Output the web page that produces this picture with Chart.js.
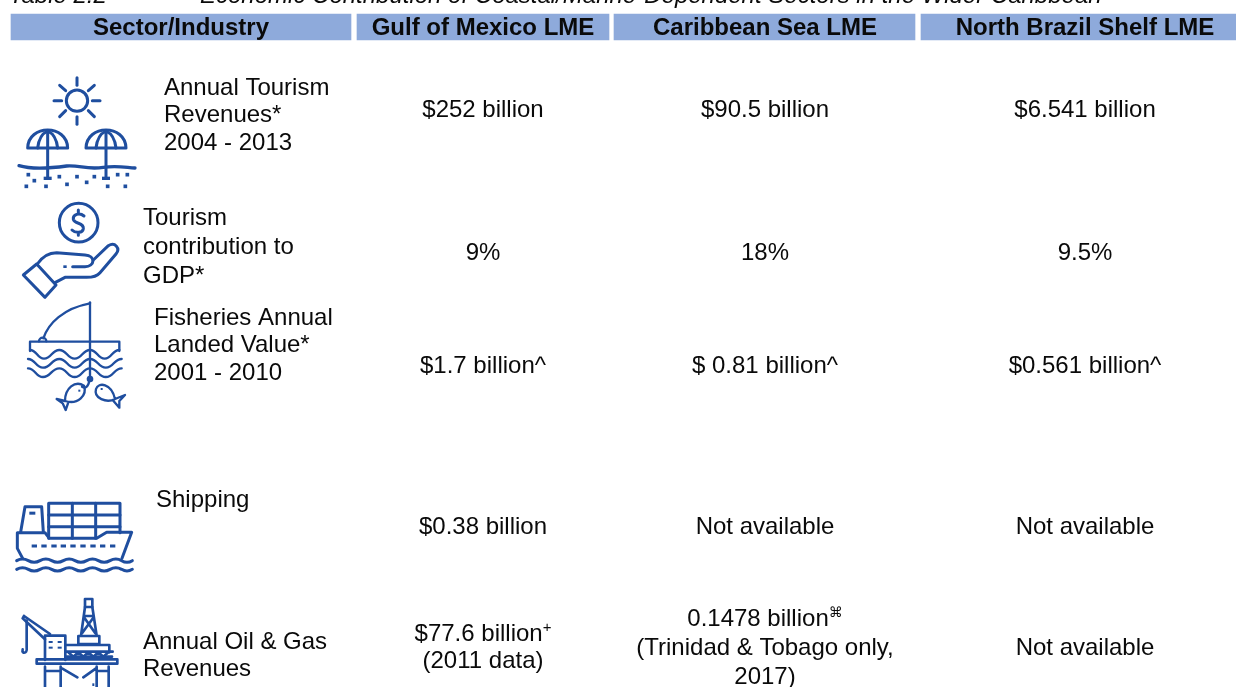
<!DOCTYPE html>
<html><head><meta charset="utf-8">
<style>html,body{margin:0;padding:0;background:#fff;overflow:hidden}canvas{display:block}</style>
<script src="https://cdn.jsdelivr.net/npm/chart.js@4"></script>
</head><body><canvas id="c" width="1236" height="687"></canvas>
<script>
const tableLabel = "Table 2.2";
const tableTitle = "Economic Contribution of Coastal/Marine-Dependent Sectors in the Wider Caribbean";
const headers = ["Sector/Industry","Gulf of Mexico LME","Caribbean Sea LME","North Brazil Shelf LME"];
const sectors = [["Annual Tourism","Revenues*","2004 - 2013"],["Tourism","contribution to","GDP*"],["Fisheries Annual","Landed Value*","2001 - 2010"],["Shipping"],["Annual Oil & Gas","Revenues"]];
const gulfValues = [["$252 billion"],["9%"],["$1.7 billion^"],["$0.38 billion"],["$77.6 billion|+","(2011 data)"]];
const caribbeanValues = [["$90.5 billion"],["18%"],["$ 0.81 billion^"],["Not available"],["0.1478 billion|⌘","(Trinidad & Tobago only,","2017)"]];
const brazilValues = [["$6.541 billion"],["9.5%"],["$0.561 billion^"],["Not available"],["Not available"]];

// layout (kept apart from the values)
const headerSpans = [[11,351],[357,609],[614,915],[921,1236]];
const headerCentres = [181,483,765,1085];
const sectorX = [164,143,154,156,143];
const sectorY = [88,218,318,500,642];
const sectorStep = [27.6,29,27.6,27.6,27.6];
const rowY = [110,253,366,527,648];
const LH = 27.6, FONT='"Liberation Sans", Arial, sans-serif', BLUE='#1f4e9f', INK='#0a0a0a';

function text(ctx,str,x,y,align,font){ctx.font=font;ctx.textAlign=align;ctx.textBaseline='middle';ctx.fillStyle=INK;ctx.fillText(str,x,y);}
function supLine(ctx,s,x,y,font){
  const [a,b]=s.split('|');
  if(!b){text(ctx,a,x,y,'center',font);return;}
  ctx.font=font;const wa=ctx.measureText(a).width;
  const sf=(b==='⌘'?'14px "DejaVu Sans"':'15px '+FONT);ctx.font=sf;const wb=ctx.measureText(b).width;
  const l=x-(wa+wb)/2;
  text(ctx,a,l,y,'left',font);text(ctx,b,l+wa,y-6,'left',sf);
}
function P(ctx,fn){ctx.beginPath();fn(ctx);ctx.stroke();}
function dots(ctx,list,w,h){list.forEach(d=>ctx.fillRect(d[0]-w/2,d[1]-h/2,w,h));}
function wave(c,x0,x1,y,amp,period){c.moveTo(x0,y);let x=x0,up=true;while(x<x1){const nx=Math.min(x+period/2,x1);c.quadraticCurveTo((x+nx)/2,y+(up?amp:-amp),nx,y);x=nx;up=!up;}}
function smooth(c,pts){c.moveTo(pts[0][0],pts[0][1]);for(let i=1;i<pts.length;i++){const a=pts[i-1],b=pts[i],m=(a[0]+b[0])/2;c.bezierCurveTo(m,a[1],m,b[1],b[0],b[1]);}}

function iconBeach(c){
  c.lineWidth=9;
  P(c,k=>{k.arc(231,122,32,0,7);});
  [[231,53,231,76],[231,170,231,193],[162,122,185,122],[277,122,300,122],[179,76,197,92],[283,76,265,92],[179,170,197,152],[283,170,265,152]].forEach(r=>P(c,k=>{k.moveTo(r[0],r[1]);k.lineTo(r[2],r[3]);}));
  [143,318].forEach(x=>{
    P(c,k=>{k.moveTo(x-60,264);k.bezierCurveTo(x-58,192,x+58,192,x+60,264);k.closePath();});
    P(c,k=>{k.moveTo(x-30,264);k.quadraticCurveTo(x-26,225,x,213);k.quadraticCurveTo(x+26,225,x+30,264);});
    P(c,k=>{k.moveTo(x,213);k.lineTo(x,355);});
    c.fillRect(x-12,350,24,10);
  });
  c.lineWidth=10;P(c,k=>{k.moveTo(57,317);k.bezierCurveTo(100,330,150,325,200,318);k.bezierCurveTo(240,315,260,330,310,322);k.bezierCurveTo(350,316,375,322,405,324);});
  dots(c,[[85,344],[103,362],[79,379],[138,379],[178,350],[201,373],[231,350],[260,367],[283,350],[323,379],[353,344],[382,344],[376,379]],11,11);
}
function iconHand(c){
  c.lineWidth=9;
  P(c,k=>k.arc(236,488,58,0,7));
  P(c,k=>{k.moveTo(252,468);k.bezierCurveTo(238,456,218,464,220,478);k.bezierCurveTo(224,494,252,486,250,506);k.bezierCurveTo(248,520,226,520,216,510);k.moveTo(235,450);k.lineTo(235,459);k.moveTo(235,517);k.lineTo(235,526);});
  P(c,k=>{k.moveTo(70,645);k.lineTo(110,612);k.lineTo(168,675);k.lineTo(135,712);k.closePath();});
  P(c,k=>{k.moveTo(112,612);k.bezierCurveTo(130,585,150,578,170,578);k.lineTo(255,585);k.bezierCurveTo(288,587,285,620,255,620);k.lineTo(218,620);});
  P(c,k=>{k.moveTo(280,600);k.lineTo(325,557);k.bezierCurveTo(345,545,362,565,348,582);k.lineTo(300,638);k.bezierCurveTo(290,650,275,652,260,652);k.lineTo(195,652);k.lineTo(165,668);});
  c.fillRect(190,616,10,8);
}
function iconFish(c){
  c.lineWidth=7;
  P(c,k=>{k.moveTo(270,22);k.lineTo(270,245);});
  P(c,k=>{k.moveTo(270,25);k.bezierCurveTo(190,40,145,85,130,130);});
  P(c,k=>{k.arc(128,139,11,Math.PI,0);});
  P(c,k=>{k.moveTo(90,168);k.lineTo(90,140);k.lineTo(358,140);k.lineTo(358,168);});
  const xs=[[90,178,270,358],[84,178,270,365],[84,178,270,365]];
  [165,192,220].forEach((y,i)=>P(c,k=>{const x=xs[i];
    smooth(k,[[x[0],y],[(x[0]+x[1])/2-2,y+26],[x[1],y],[(x[1]+x[2])/2,y+26],[x[2],y],[(x[2]+x[3])/2,y+26],[x[3],y]]);
  }));
  c.beginPath();c.arc(270,252,10,0,7);c.fill();
  P(c,k=>{k.moveTo(268,258);k.quadraticCurveTo(262,285,246,275);});
  P(c,k=>{k.moveTo(195,318);k.bezierCurveTo(195,280,225,255,252,272);k.bezierCurveTo(262,300,235,330,195,318);k.lineTo(170,312);k.lineTo(188,325);k.lineTo(197,345);k.lineTo(205,322);});
  P(c,k=>{k.moveTo(345,312);k.bezierCurveTo(335,265,295,260,288,282);k.bezierCurveTo(280,310,320,325,345,312);k.lineTo(375,300);k.lineTo(358,318);k.lineTo(358,338);k.lineTo(338,315);});
  c.fillRect(235,284,6,6);c.fillRect(302,279,6,6);
}
function iconShip(c){
  c.lineWidth=9;
  P(c,k=>{k.moveTo(68,205);k.lineTo(52,175);k.lineTo(52,128);k.lineTo(135,128);k.lineTo(148,145);k.lineTo(290,145);k.lineTo(320,127);k.lineTo(395,127);k.lineTo(366,205);});
  P(c,k=>{k.moveTo(62,126);k.lineTo(75,50);k.lineTo(125,50);k.lineTo(130,126);});
  c.fillRect(88,65,18,9);
  P(c,k=>{k.moveTo(146,145);k.lineTo(146,40);k.lineTo(360,40);k.lineTo(360,128);});
  P(c,k=>{k.moveTo(146,75);k.lineTo(360,75);k.moveTo(146,110);k.lineTo(360,110);k.moveTo(217,40);k.lineTo(217,145);k.moveTo(287,40);k.lineTo(287,145);});
  dots(c,[[103,168],[132,168],[162,168],[190,168],[219,168],[249,168],[279,168],[308,168],[338,168]],16,9);
  P(c,k=>wave(k,50,397,212,-10,70));
  P(c,k=>wave(k,50,397,238,-10,70));
}
function iconRig(c){
  c.lineWidth=8;
  c.strokeRect(255,327,22,24);
  P(c,k=>{k.moveTo(255,351);k.lineTo(243,437);k.moveTo(277,351);k.lineTo(290,437);k.moveTo(252,378);k.lineTo(281,378);k.moveTo(252,382);k.lineTo(286,430);k.moveTo(281,382);k.lineTo(246,430);});
  c.strokeRect(235,438,63,24);
  P(c,k=>{k.moveTo(198,465);k.lineTo(328,465);k.lineTo(328,487);k.moveTo(196,485);k.lineTo(338,485);k.moveTo(200,500);k.lineTo(336,500);});
  P(c,k=>{k.moveTo(205,487);k.lineTo(220,500);k.lineTo(235,487);k.lineTo(250,500);k.lineTo(265,487);k.lineTo(280,500);k.lineTo(295,487);k.lineTo(310,500);k.lineTo(325,487);});
  P(c,k=>{k.moveTo(135,510);k.lineTo(135,437);k.lineTo(196,437);k.lineTo(196,510);});
  dots(c,[[152,456],[179,456],[152,473],[179,473]],12,6);
  P(c,k=>{k.moveTo(72,378);k.lineTo(150,432);k.moveTo(68,385);k.lineTo(135,448);k.moveTo(72,378);k.lineTo(68,385);});
  P(c,k=>{k.moveTo(80,392);k.lineTo(80,472);k.quadraticCurveTo(82,490,70,488);k.quadraticCurveTo(66,484,68,478);});
  c.strokeRect(110,508,242,13);
  P(c,k=>{k.moveTo(135,530);k.lineTo(135,591);k.moveTo(182,530);k.lineTo(182,591);k.moveTo(290,530);k.lineTo(290,591);k.moveTo(326,530);k.lineTo(326,591);k.moveTo(135,543);k.lineTo(182,543);k.moveTo(290,543);k.lineTo(326,543);k.moveTo(186,535);k.lineTo(232,562);k.moveTo(288,535);k.lineTo(250,562);});
  c.fillRect(277,580,6,8);
}
const icons=[[0,60,iconBeach],[0,60,iconHand],[0,295,iconFish],[0,490,iconShip],[0,490,iconRig]];

const tablePlugin={id:'tablePlugin',afterDatasetsDraw(chart){
  const ctx=chart.ctx,X=v=>chart.scales.x.getPixelForValue(v),Y=v=>chart.scales.y.getPixelForValue(v);
  ctx.save();
  const it='italic 24px '+FONT,body='24px '+FONT,bold='bold 24px '+FONT;
  text(ctx,tableLabel,X(9),Y(-4),'left',it);
  text(ctx,tableTitle,X(200),Y(-4),'left',it);
  headers.forEach((h,i)=>text(ctx,h,X(headerCentres[i]),Y(28),'center',bold));
  sectors.forEach((lines,i)=>lines.forEach((l,j)=>text(ctx,l,X(sectorX[i]),Y(sectorY[i]+j*sectorStep[i]),'left',body)));
  [gulfValues,caribbeanValues,brazilValues].forEach((col,ci)=>col.forEach((lines,r)=>{
    const step=lines.length===3?29:LH, top=rowY[r]-(lines.length-1)*step*0.5;
    lines.forEach((l,j)=>supLine(ctx,l,X(headerCentres[ci+1]),Y(top+j*step),body));
  }));
  ctx.strokeStyle=BLUE;ctx.fillStyle=BLUE;ctx.lineJoin='round';ctx.lineCap='round';
  icons.forEach(([ox,oy,fn])=>{ctx.save();ctx.translate(ox,oy);ctx.scale(1/3,1/3);fn(ctx);ctx.restore();});
  ctx.restore();
}};

new Chart(document.getElementById('c'),{
  type:'bar',
  data:{datasets:headerSpans.map((s,i)=>({label:headers[i],data:[{x:s,y:27}],backgroundColor:'#8eaadb',barThickness:26,grouped:false,borderWidth:0}))},
  options:{indexAxis:'y',responsive:false,animation:false,devicePixelRatio:1,layout:{padding:0},
    plugins:{legend:{display:false},tooltip:{enabled:false},title:{display:false}},
    scales:{x:{type:'linear',min:0,max:1236,display:false},y:{type:'linear',min:0,max:687,reverse:true,offset:false,display:false}}},
  plugins:[tablePlugin]
});
</script></body></html>
